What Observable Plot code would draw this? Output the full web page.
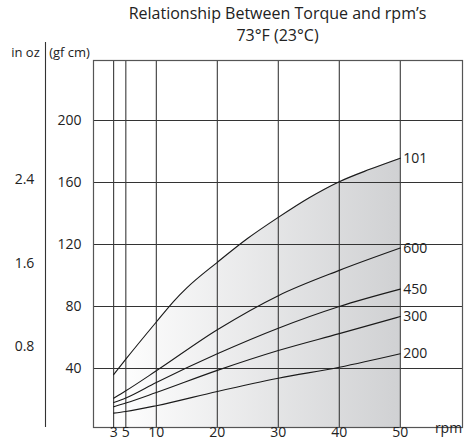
<!DOCTYPE html>
<html><head><meta charset="utf-8">
<script src="https://cdn.jsdelivr.net/npm/d3@7"></script>
<script src="https://cdn.jsdelivr.net/npm/@observablehq/plot@0.6"></script>
<style>
body{margin:0;background:#fff;}
#wrap{position:relative;width:464px;height:444px;font-family:"Open Sans",sans-serif;color:#222;}
#title{position:absolute;left:93px;width:369px;top:2px;text-align:center;font-size:16px;line-height:22px;z-index:2;}
#chart{position:absolute;left:0;top:0;}
</style></head><body>
<div id="wrap"><div id="title">Relationship Between Torque and rpm’s<br>73°F (23°C)</div><div id="chart"></div></div>
<script>
// x ticks (rpm) and y ticks (gf cm)
const rpmTicks = [3, 5, 10, 20, 30, 40, 50];
const gfTicks = [40, 80, 120, 160, 200];
const inOzTicks = [0.8, 1.6, 2.4];
const OZ_SCALE = 67.5; // gf cm per in oz as drawn in the picture

// series values (torque in gf cm)
const rpm101 = [3, 5, 10, 13, 15, 20, 25, 30, 35, 40, 45, 50];
const s101 = [36, 46, 70, 84, 92, 108.5, 124, 137.5, 150, 160.5, 168.5, 175.7];
const rpmOthers = [3, 5, 10, 20, 30, 40, 50];
const s600 = [20.8, 25.6, 38.5, 65, 87, 103.3, 117.7];
const s450 = [18, 21, 31, 49.5, 66, 80, 91.2];
const s300 = [15.3, 17.7, 24.5, 38.8, 51.6, 62.5, 73.5];
const s200 = [11.2, 12.3, 16, 25.2, 33.7, 40.8, 49.5];
const seriesNames = ["101", "600", "450", "300", "200"];

const Y_MIN = 1.94, Y_MAX = 238.7;

const rows101 = rpm101.map((r, i) => ({series: "101", rpm: r, torque: s101[i]}));
const rows = [
  ...rows101,
  ...[s600, s450, s300, s200].flatMap((s, k) =>
    rpmOthers.map((r, i) => ({series: seriesNames[k + 1], rpm: r, torque: s[i]})))
];

const plot = Plot.plot({
  width: 464, height: 444,
  marginTop: 60, marginBottom: 17, marginLeft: 93, marginRight: 2,
  style: {fontFamily: "'Open Sans', sans-serif", fontSize: "14px", color: "#222", background: "transparent"},
  x: {domain: [-0.3, 60.2]},
  y: {domain: [Y_MIN, Y_MAX]},
  marks: [
    Plot.areaY(rows101, {x: "rpm", y1: Y_MIN, y2: "torque", fill: "url(#torqueGrad)", curve: "monotone-x"}),
    Plot.ruleY(gfTicks, {stroke: "#333", strokeWidth: 1.1}),
    Plot.ruleX(rpmTicks, {stroke: "#3a3a3a", strokeWidth: 1.1}),
    Plot.line(rows, {x: "rpm", y: "torque", z: "series", stroke: "#1a1a1a", strokeWidth: 1.1, curve: "monotone-x"}),
    Plot.text(rows, Plot.selectLast({x: "rpm", y: "torque", z: "series", text: "series", dx: 3, textAnchor: "start", fill: "#222"})),
    Plot.frame({stroke: "#555", strokeWidth: 1.2}),
    Plot.axisX({ticks: rpmTicks, tickSize: 0, tickPadding: 0, label: null}),
    Plot.axisY({ticks: gfTicks, tickSize: 0, tickPadding: 12, label: null}),
    Plot.text(inOzTicks, {y: d => d * OZ_SCALE, text: d => d.toFixed(1), frameAnchor: "left", dx: -69, textAnchor: "middle", fill: "#222"}),
    Plot.text(["(gf cm)"], {frameAnchor: "top-left", text: d => d, dx: -24, dy: -13, textAnchor: "middle", fontSize: 13, fill: "#222"}),
    Plot.text(["in oz"], {frameAnchor: "top-left", text: d => d, dx: -68, dy: -13, textAnchor: "middle", fontSize: 13, fill: "#222"}),
    Plot.text(["rpm"], {frameAnchor: "bottom-right", text: d => d, dx: -14, dy: 5, textAnchor: "middle", fill: "#222"}),
    Plot.ruleX([-0.3], {dx: -48, stroke: "#333", strokeWidth: 1.1, insetTop: -18})
  ]
});

const defs = d3.select(plot).insert("defs", ":first-child");
const grad = defs.append("linearGradient").attr("id", "torqueGrad").attr("x1", "0").attr("x2", "1").attr("y1", "0").attr("y2", "0");
grad.append("stop").attr("offset", "0%").attr("stop-color", "#ffffff");
grad.append("stop").attr("offset", "100%").attr("stop-color", "#d0d1d3");

document.getElementById("chart").appendChild(plot);
</script>
</body></html>
